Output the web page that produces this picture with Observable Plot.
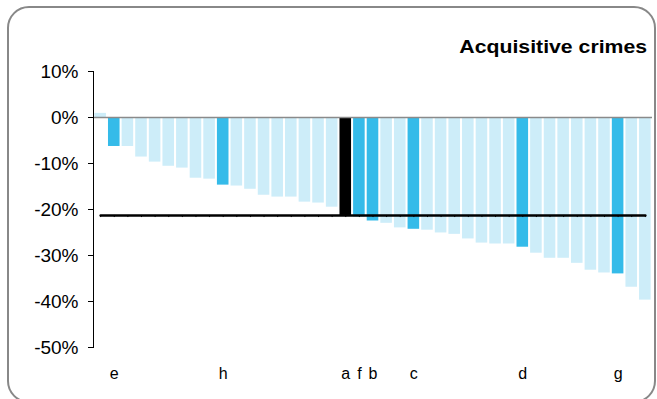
<!DOCTYPE html>
<html>
<head>
<meta charset="utf-8">
<script src="https://cdn.jsdelivr.net/npm/d3@7"></script>
<script src="https://cdn.jsdelivr.net/npm/@observablehq/plot@0.6"></script>
<style>
  html, body { margin: 0; padding: 0; background: #fff; }
  #wrap { position: relative; width: 657px; height: 399px; overflow: hidden; font-family: "Liberation Sans", Arial, sans-serif; }
  #border { position: absolute; left: 7px; top: 6px; width: 649px; height: 397px; border: 2px solid #888; border-radius: 22px; box-sizing: border-box; }
  #title { position: absolute; right: 10px; top: 38px; font-size: 18px; line-height: 18px; font-weight: bold; color: #000; transform: scaleX(1.18); transform-origin: right center; white-space: nowrap; }
  #chart { position: absolute; left: 0; top: 0; }
</style>
</head>
<body>
<div id="wrap">
  <div id="border"></div>
  <div id="title">Acquisitive crimes</div>
  <div id="chart"></div>
</div>
<script>
// Percentage change for each area (sorted)
const barValues = [0.9, -6.3, -6.3, -8.6, -9.7, -10.6, -11.0, -13.2, -13.4, -14.7, -14.9, -15.6, -16.9, -17.3, -17.3, -18.4, -18.6, -19.5, -21.3, -21.6, -22.5, -23.0, -24.0, -24.3, -24.5, -25.1, -25.4, -26.4, -27.3, -27.5, -27.5, -28.2, -29.5, -30.6, -30.6, -31.7, -33.2, -33.8, -34.0, -36.9, -39.7];
// Labelled bars (1-based position) and their names
const labelPositions = [2, 10, 19, 20, 21, 24, 32, 39];
const labelNames = ["e", "h", "a", "f", "b", "c", "d", "g"];
// Average reference line
const averageValue = -21.3;
// Y axis ticks
const yTicks = [10, 0, -10, -20, -30, -40, -50];

const colorLight = "#cdedf9";
const colorDark = "#35bbe9";
const colorRef = "#000000";

const data = barValues.map((v, k) => {
  const pos = k + 1;
  const li = labelPositions.indexOf(pos);
  const name = li >= 0 ? labelNames[li] : "";
  return {i: pos, v, name, color: name === "a" ? colorRef : (name ? colorDark : colorLight)};
});
const labelData = data.filter(d => d.name);

const chart = Plot.plot({
  width: 657,
  height: 399,
  marginLeft: 93,
  marginRight: 5,
  marginTop: 71,
  marginBottom: 52,
  style: {fontFamily: "'Liberation Sans', Arial, sans-serif", background: "transparent", color: "#000"},
  x: {type: "band", domain: data.map(d => d.i), paddingInner: 0.15, paddingOuter: 0.1, round: false, axis: null},
  y: {domain: [-50, 10], axis: null},
  color: {type: "identity"},
  marks: [
    Plot.barY(data, {x: "i", y: "v", fill: "color"}),
    Plot.ruleY([0], {stroke: "#8a8a8a", strokeWidth: 1.5}),
    Plot.lineY(data, {x: "i", y: () => averageValue, stroke: "#000", strokeWidth: 2.5}),
    Plot.ruleX(data, {x: "i", y1: averageValue, y2: averageValue - 0.45, stroke: "#000", strokeWidth: 1}),
    Plot.frame({anchor: "left", stroke: "#000", strokeWidth: 1}),
    Plot.axisY({ticks: yTicks, tickSize: 5, tickPadding: 10, fontSize: 19, label: null, tickFormat: d => d + "%"}),
    Plot.text(labelData, {x: "i", text: "name", frameAnchor: "bottom", dy: 31, fontSize: 16, fill: "#000"})
  ]
});
document.getElementById("chart").appendChild(chart);
</script>
</body>
</html>
